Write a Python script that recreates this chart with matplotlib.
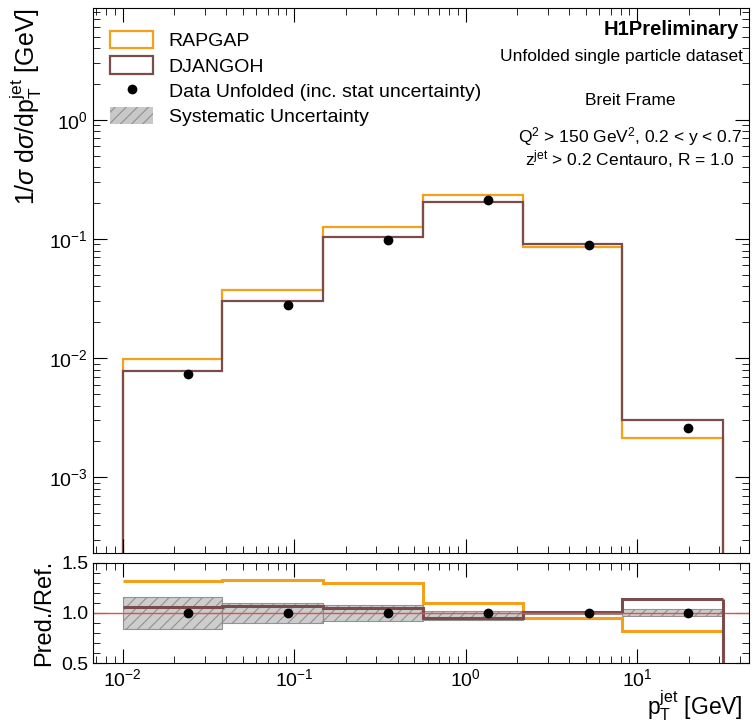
import numpy as np
import matplotlib
matplotlib.use("Agg")
import matplotlib.pyplot as plt
from matplotlib.patches import Patch
from matplotlib.lines import Line2D

plt.rcParams['font.family'] = ['Liberation Sans', 'DejaVu Sans']
plt.rcParams['mathtext.fontset'] = 'custom'
plt.rcParams['mathtext.rm'] = 'Liberation Sans'
plt.rcParams['mathtext.it'] = 'Liberation Sans:italic'
plt.rcParams['hatch.color'] = '#707070'
plt.rcParams['hatch.linewidth'] = 0.8

# bins in pT jet (GeV)
edges = [0.01, 0.038, 0.147, 0.56, 2.15, 8.2, 31.6]
x_data = [0.024, 0.0925, 0.353, 1.355, 5.2, 19.9]

# normalised cross sections
data = [0.0074, 0.028, 0.098, 0.214, 0.089, 0.0026]
data_err = [0.0002, 0.0006, 0.002, 0.004, 0.002, 0.0001]
rapgap = [0.0098, 0.0372, 0.127, 0.236, 0.085, 0.00215]
djangoh = [0.0078, 0.0300, 0.103, 0.203, 0.090, 0.0030]

# ratio panel (prediction / data)
ratio_rap = [1.32, 1.33, 1.30, 1.10, 0.95, 0.82]
ratio_dja = [1.06, 1.07, 1.05, 0.95, 1.01, 1.14]

# systematic band relative to data (low, high)
sys_lo = [0.845, 0.90, 0.92, 0.93, 0.99, 0.965]
sys_hi = [1.155, 1.10, 1.075, 1.02, 1.01, 1.035]

c_rap = '#f5a01a'
c_dja = '#7b4c4c'

fig = plt.figure(figsize=(7.56, 7.28), dpi=100)
ax = fig.add_axes([0.123, 0.240, 0.868, 0.749])
axr = fig.add_axes([0.123, 0.089, 0.868, 0.138], sharex=ax)

ax.stairs(rapgap, edges, baseline=1e-7, color=c_rap, lw=1.6)
ax.stairs(djangoh, edges, baseline=1e-7, color=c_dja, lw=1.6)
ax.errorbar(x_data, data, yerr=data_err, fmt='o', color='black', ms=6, elinewidth=1.2, capsize=0)

ax.set_xscale('log')
ax.set_yscale('log')
ax.set_xlim(0.0067, 45)
ax.set_ylim(2.3e-4, 8.7)
ax.set_ylabel(r'1/$\sigma$ d$\sigma$/dp$_{\mathrm{T}}^{\mathrm{jet}}$ [GeV]', fontsize=18, loc='top')
ax.tick_params(which='both', direction='in', top=True, right=True, labelsize=14)
ax.tick_params(which='major', length=10)
ax.tick_params(which='minor', length=5)
ax.tick_params(axis='x', labelbottom=False)

ax.text(0.985, 0.978, 'H1Preliminary', transform=ax.transAxes, ha='right', va='top',
        fontsize=14.5, fontweight='bold')
ax.text(0.99, 0.925, 'Unfolded single particle dataset', transform=ax.transAxes,
        ha='right', va='top', fontsize=12.5)
ax.text(0.818, 0.845, 'Breit Frame', transform=ax.transAxes, ha='center', va='top', fontsize=12.5)
ax.text(0.818, 0.785, r'Q$^2$ > 150 GeV$^2$, 0.2 < y < 0.7', transform=ax.transAxes,
        ha='center', va='top', fontsize=12.5)
ax.text(0.818, 0.743, r'z$^{\mathrm{jet}}$ > 0.2 Centauro, R = 1.0', transform=ax.transAxes,
        ha='center', va='top', fontsize=12.5)

handles = [Patch(facecolor='white', edgecolor=c_rap, lw=1.6),
           Patch(facecolor='white', edgecolor=c_dja, lw=1.6),
           Line2D([], [], marker='o', color='black', ls='none', ms=6),
           Patch(facecolor='#c8c8c8', edgecolor='#909090', hatch='///', lw=0)]
labels = ['RAPGAP', 'DJANGOH', 'Data Unfolded (inc. stat uncertainty)', 'Systematic Uncertainty']
ax.legend(handles, labels, loc='upper left', frameon=False, fontsize=14,
          bbox_to_anchor=(0.0, 0.99), handlelength=2.2, handleheight=1.0, labelspacing=0.3)

# ratio panel
for lo, hi, a, b in zip(sys_lo, sys_hi, edges[:-1], edges[1:]):
    axr.fill_between([a, b], lo, hi, facecolor='#c8c8c8', edgecolor='#8a8a8a',
                     hatch='///', lw=0.8, alpha=0.9)
axr.axhline(1.0, color='#e05050', lw=1.0)
axr.stairs(ratio_rap, edges, baseline=None, color=c_rap, lw=2.2)
axr.stairs(ratio_dja, edges, baseline=None, color=c_dja, lw=2.2)
axr.vlines(edges[-1], 0, ratio_rap[-1], color=c_rap, lw=2.2)
axr.vlines(edges[-1], 0, ratio_dja[-1], color=c_dja, lw=2.2)
axr.plot(x_data, np.ones(len(x_data)), 'o', color='black', ms=6)

axr.set_ylim(0.5, 1.5)
axr.set_yticks([0.5, 1.0, 1.5])
axr.set_yticklabels(['0.5', '1.0', '1.5'])
axr.set_ylabel('Pred./Ref.', fontsize=17)
axr.set_xlabel(r'p$_{\mathrm{T}}^{\mathrm{jet}}$ [GeV]', fontsize=16.5, va='bottom')
axr.xaxis.set_label_coords(0.99, -0.60)
axr.xaxis.label.set_horizontalalignment('right')
axr.tick_params(which='both', direction='in', top=True, right=True, labelsize=14)
axr.tick_params(which='major', length=10)
axr.tick_params(which='minor', length=5)
axr.yaxis.set_minor_locator(matplotlib.ticker.MultipleLocator(0.1))
fig.align_ylabels([ax, axr])

fig.savefig('out.png', dpi=100)
